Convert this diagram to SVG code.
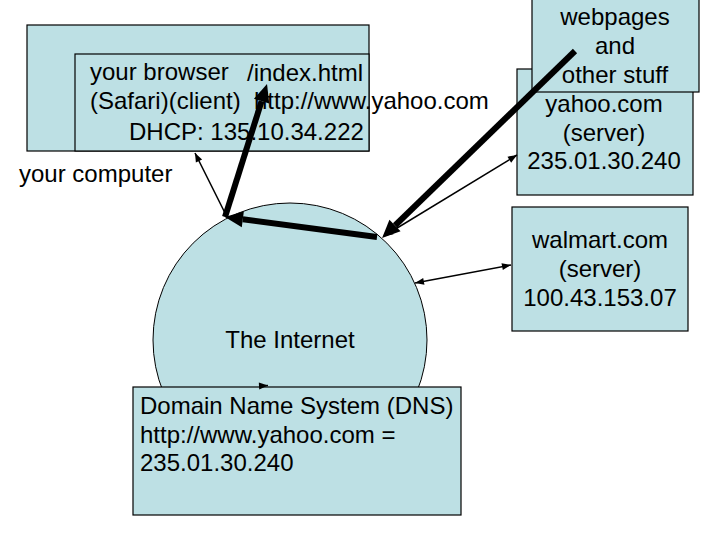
<svg xmlns="http://www.w3.org/2000/svg" width="720" height="540" viewBox="0 0 720 540">
<style>
.box{fill:#BDE0E4;stroke:#000;stroke-width:1.2}
.t{font-family:"Liberation Sans",Arial,sans-serif;font-size:24px;fill:#000}
.c{text-anchor:middle}
.thin{stroke:#000;stroke-width:1.5;fill:none}
.thick{stroke:#000;stroke-width:6;fill:none}
</style>
<defs>
<marker id="bigHead" markerUnits="userSpaceOnUse" markerWidth="20" markerHeight="18" refX="0" refY="8" orient="auto" overflow="visible">
<path d="M0,0 L18,8 L0,16 Z" fill="#000"/>
</marker>
<marker id="smallHead" markerUnits="userSpaceOnUse" markerWidth="10" markerHeight="8" refX="9" refY="3.5" orient="auto-start-reverse" overflow="visible">
<path d="M0,0 L9,3.5 L0,7 Z" fill="#000"/>
</marker>
</defs>
<rect width="720" height="540" fill="#fff"/>

<g id="computer">
<rect class="box" x="27" y="25" width="342" height="126"/>
<text class="t" x="19" y="182">your computer</text>
</g>
<g id="browser">
<rect class="box" x="75" y="54" width="294" height="97"/>
<text class="t" x="90" y="80">your browser</text>
<text class="t" x="247" y="81">/index.html</text>
<text class="t" x="90" y="109">(Safari)(client)</text>
<text class="t" x="254" y="109">http://www.yahoo.com</text>
<text class="t" x="129" y="140">DHCP: 135.10.34.222</text>
</g>
<g id="yahoo">
<rect class="box" x="517" y="69" width="176" height="126"/>
<text class="t c" x="604" y="112">yahoo.com</text>
<text class="t c" x="604" y="141">(server)</text>
<text class="t c" x="604" y="169">235.01.30.240</text>
</g>
<g id="webpages">
<rect class="box" x="532" y="-1" width="167" height="93"/>
<text class="t c" x="615" y="25">webpages</text>
<text class="t c" x="615" y="54">and</text>
<text class="t c" x="615" y="83">other stuff</text>
</g>
<g id="walmart">
<rect class="box" x="512" y="207" width="176" height="124"/>
<text class="t c" x="600" y="248">walmart.com</text>
<text class="t c" x="600" y="277">(server)</text>
<text class="t c" x="600" y="306">100.43.153.07</text>
</g>
<g id="internet">
<circle cx="290" cy="340" r="137" fill="#BDE0E4" stroke="#000" stroke-width="1"/>
<text class="t c" x="290" y="348">The Internet</text>
</g>
<g id="dns">
<rect class="box" x="133" y="387" width="328" height="128"/>
<text class="t" x="140" y="414">Domain Name System (DNS)</text>
<text class="t" x="140" y="443">http://www.yahoo.com =</text>
<text class="t" x="140" y="471">235.01.30.240</text>
</g>
<g id="connectors">
<line class="thin" x1="226" y1="215" x2="195" y2="153" marker-end="url(#smallHead)"/>
<line class="thin" x1="384" y1="236" x2="517" y2="155" marker-start="url(#smallHead)" marker-end="url(#smallHead)"/>
<line class="thin" x1="415" y1="283" x2="511" y2="265" marker-start="url(#smallHead)" marker-end="url(#smallHead)"/>
<line class="thin" x1="259" y1="386" x2="268" y2="385.5" marker-end="url(#smallHead)"/>
<line class="thick" x1="575" y1="51" x2="395" y2="225.5" marker-end="url(#bigHead)"/>
<line class="thick" x1="377" y1="237" x2="242.8" y2="219.3" marker-end="url(#bigHead)"/>
<line class="thick" x1="225" y1="217" x2="261.6" y2="101.2" marker-end="url(#bigHead)"/>
</g>
</svg>
